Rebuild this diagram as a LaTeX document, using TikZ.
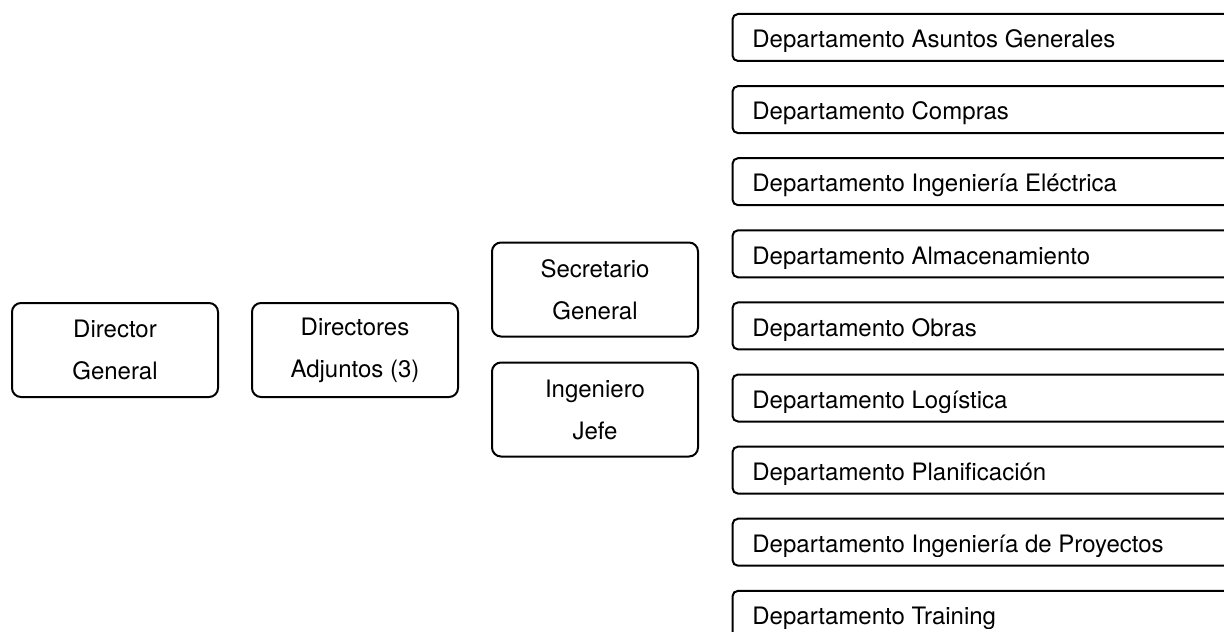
\documentclass[tikz,border=0pt]{standalone}
\usepackage{fontspec}
\setmainfont{TeX Gyre Heros}
\begin{document}
\begin{tikzpicture}[x=0.5pt,y=-0.5pt,
  every node/.style={font=\fontsize{12}{21}\selectfont},
  rolebox/.style={draw, line width=1pt, rounded corners=4.5pt, align=center,
    minimum width=103pt, minimum height=47pt, inner sep=0pt},
  deptbox/.style={draw, line width=1pt, rounded corners=2.75pt,
    minimum width=283.75pt, minimum height=23.5pt, inner sep=0pt},
  depttext/.style={anchor=base west, inner sep=0pt}]
  \clip (0,0) rectangle (1224,631);

  % management boxes
  \node[rolebox] (dg)  at (115,350)   {Director\\General};
  \node[rolebox] (da)  at (355,350)   {Directores\\Adjuntos (3)};
  \node[rolebox] (sg)  at (595,289.5) {Secretario\\General};
  \node[rolebox] (ij)  at (595,409.5) {Ingeniero\\Jefe};

  % departments, stacked on a fixed pitch
  \foreach \name [count=\i from 0] in {
      Asuntos Generales, Compras, Ingeniería Eléctrica, Almacenamiento,
      Obras, Logística, Planificación, Ingeniería de Proyectos, Training} {
    \node[deptbox] (d\i) at (1016.25, 37.5+72.1*\i) {};
    \begin{scope}
      \clip (d\i.north west) rectangle ([yshift=5pt]d\i.south east);
      \node[depttext] (t\i) at ([xshift=10.25pt,yshift=-17.35pt]d\i.north west)
        {Departamento \name};
    \end{scope}
  }
\end{tikzpicture}
\end{document}
